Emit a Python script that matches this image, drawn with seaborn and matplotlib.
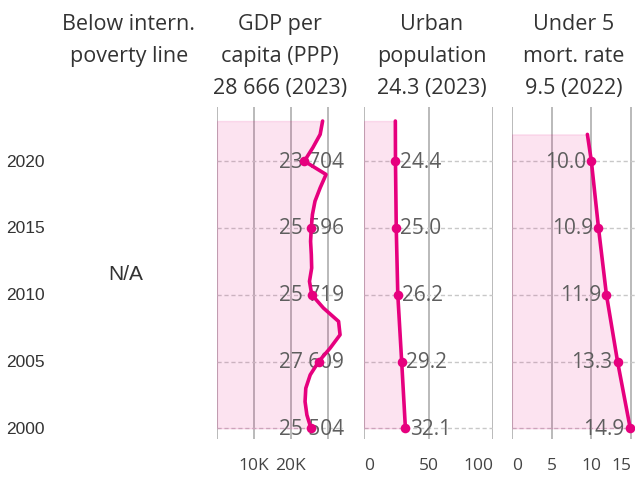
import matplotlib
matplotlib.use("Agg")
import matplotlib.pyplot as plt
import matplotlib.transforms as mtransforms
import pandas as pd
import seaborn as sns

# data
gdp_years = list(range(2000, 2024))
gdp_values = [25504, 24400, 23900, 24100, 25300, 27609, 30700, 33400, 33000, 28900,
              25719, 25100, 25700, 25600, 25400, 25596, 25900, 26600, 28000, 29600,
              23704, 26000, 28000, 28666]
urban_years = [2000, 2005, 2010, 2015, 2020, 2023]
urban_values = [32.1, 29.2, 26.2, 25.0, 24.4, 24.3]
mort_years = [2000, 2005, 2010, 2015, 2020, 2022]
mort_values = [14.9, 13.3, 11.9, 10.9, 10.0, 9.5]

label_years = [2000, 2005, 2010, 2015, 2020]
year_ticks = [2000, 2005, 2010, 2015, 2020]

gdp_ticks = [0, 10000, 20000, 30000]
gdp_ticklabels = ["", "10K", "20K", ""]
urban_ticks = [0, 50, 100]
urban_ticklabels = ["0", "50", "100"]
mort_ticks = [0, 5, 10, 15]
mort_ticklabels = ["0", "5", "10", "15"]

headers = [
    ["Below intern.", "poverty line"],
    ["GDP per", "capita (PPP)", "28 666 (2023)"],
    ["Urban", "population", "24.3 (2023)"],
    ["Under 5", "mort. rate", "9.5 (2022)"],
]

PINK = "#e6007e"
GRID = "#b4b4b4"
DASH = "#c8c8c8"
TEXT = "#333333"
LABEL = "#5e5e5e"

sns.set_theme(style="white")
plt.rcParams["font.family"] = ["Open Sans", "DejaVu Sans"]

W, H = 635, 481
Y0, Y1 = 1999.2, 2024.05
fig = plt.figure(figsize=(W / 100, H / 100), dpi=100)


def rect(x0, x1, y0=108, y1=440):
    return [x0 / W, 1 - y1 / H, (x1 - x0) / W, (y1 - y0) / H]


def fmt_gdp(v):
    return f"{v:,.0f}".replace(",", " ")


def panel(ax, years, values, xlim, ticks, ticklabels, mode, fmt):
    df = pd.DataFrame({"year": years, "value": values})
    dots = df[df["year"].isin(label_years)]
    ax.fill_betweenx(df["year"], 0, df["value"], color=PINK, alpha=0.11,
                     lw=1, zorder=1)
    sns.lineplot(data=df, x="value", y="year", estimator=None, sort=False,
                 color=PINK, lw=2.6, ax=ax, zorder=3)
    sns.scatterplot(data=dots, x="value", y="year", color=PINK, s=48,
                    linewidth=0, ax=ax, zorder=4)
    for x in ticks:
        ax.axvline(x, color=GRID, lw=1.3, zorder=0.5)
    for y in year_ticks:
        ax.axhline(y, color=DASH, lw=1, ls=(0, (3, 2)), zorder=0.6)
    if mode == "fixed":
        xc = dots["value"].mean()
        for _, r in dots.iterrows():
            ax.text(xc, r["year"], fmt(r["value"]), ha="center", va="center",
                    fontsize=15, color=LABEL, zorder=2)
    else:
        off, ha = (3, "left") if mode == "right" else (-4, "right")
        for _, r in dots.iterrows():
            ax.annotate(fmt(r["value"]), (r["value"], r["year"]),
                        xytext=(off, 0), textcoords="offset points",
                        ha=ha, va="center", fontsize=15, color=LABEL, zorder=2)
    ax.set_xlim(*xlim)
    ax.set_ylim(Y0, Y1)
    ax.set_yticks([])
    ax.set_xticks(ticks)
    ax.set_xticklabels(ticklabels)
    ax.tick_params(axis="x", length=0, pad=13, labelsize=12.5, labelcolor="#444444")
    ax.set_xlabel("")
    ax.set_ylabel("")
    for s in ax.spines.values():
        s.set_visible(False)
    ax.set_facecolor("none")


ax_gdp = fig.add_axes(rect(217, 343))
ax_urb = fig.add_axes(rect(364, 493))
ax_mort = fig.add_axes(rect(512, 635))

panel(ax_gdp, gdp_years, gdp_values, (0, 34200), gdp_ticks, gdp_ticklabels,
      "fixed", fmt_gdp)
panel(ax_urb, urban_years, urban_values, (0, 100), urban_ticks, urban_ticklabels,
      "right", lambda v: f"{v:.1f}")
panel(ax_mort, mort_years, mort_values, (0, 15.5), mort_ticks, mort_ticklabels,
      "left", lambda v: f"{v:.1f}")

for ax in (ax_urb, ax_mort):
    labs = ax.get_xticklabels()
    labs[0].set_ha("left")
    labs[-1].set_ha("right")

# year labels on the far left
tr = mtransforms.blended_transform_factory(fig.transFigure, ax_gdp.transData)
for y in year_ticks:
    fig.text(6 / W, y, str(y), transform=tr, ha="left", va="center",
             fontsize=12.5, family="Liberation Sans", color=TEXT)

fig.text(126 / W, 1 - 274 / H, "N/A", ha="center", va="center", fontsize=15,
         family="Liberation Sans", color=TEXT)

header_x = [129, 280, 432, 574]
header_base = [30, 62, 94]
for xc, lines in zip(header_x, headers):
    for yb, line in zip(header_base, lines):
        fig.text(xc / W, 1 - yb / H, line, ha="center", va="baseline",
                 fontsize=15.5, color=TEXT)

fig.savefig("out.png", dpi=100)
